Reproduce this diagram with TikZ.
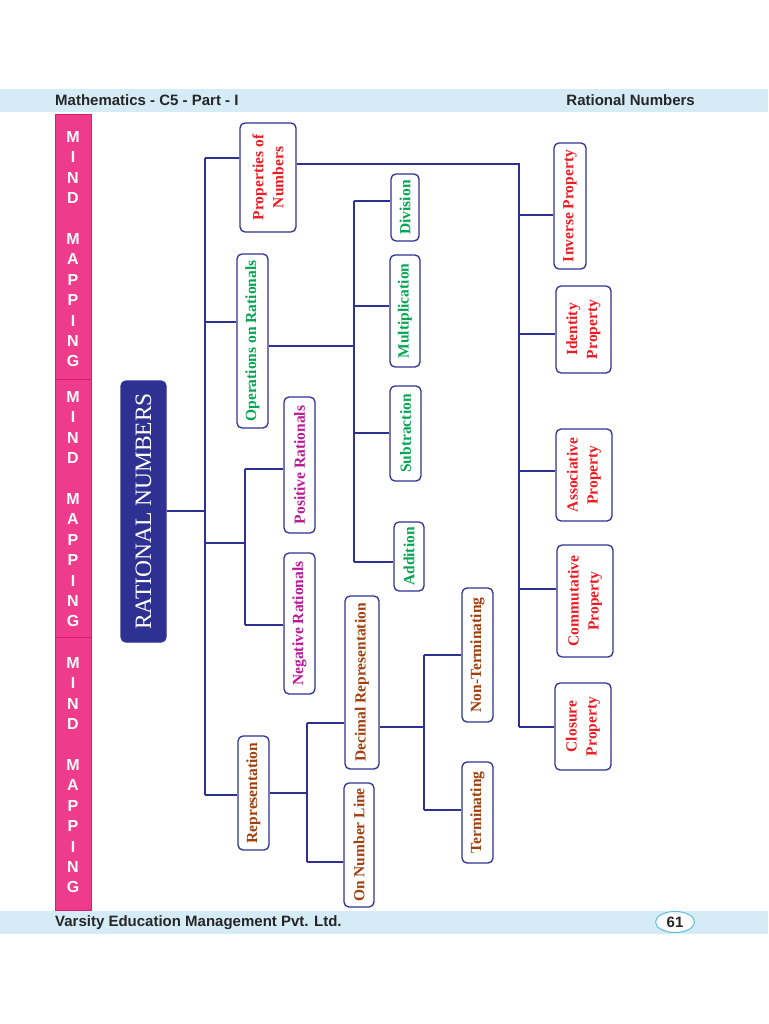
\documentclass[tikz,border=0pt]{standalone}
\usepackage{fontspec}
\setmainfont{Liberation Serif}
\newfontfamily\headfont{Liberation Sans}
\usetikzlibrary{shapes.geometric}
\definecolor{linkblue}{HTML}{2E3192}
\definecolor{pinkbar}{HTML}{EE3B8B}
\definecolor{pinkedge}{HTML}{D81C6E}
\definecolor{bandblue}{HTML}{D5ECF6}
\definecolor{numring}{HTML}{5DBDE8}
\definecolor{propred}{HTML}{ED1C24}
\definecolor{opgreen}{HTML}{00A651}
\definecolor{ratmag}{HTML}{BA1A95}
\definecolor{repbrown}{HTML}{A0400E}
\newcommand{\topic}[6]{%
 \node[topic, text=#5, minimum width=#3pt, minimum height=#4pt] (#1) at (#2) {#6};%
}

\begin{document}
\begin{tikzpicture}[x=1pt, y=-1pt,
  link/.style={draw=linkblue, line width=1.8pt},
  topic/.style={draw=linkblue, line width=1.3pt, fill=white, rounded corners=5pt,
    rotate=90, inner sep=0pt, align=center,
    font=\bfseries\fontsize{15.5}{20}\selectfont},
  headtext/.style={font=\headfont\bfseries\fontsize{15}{17}\selectfont, text=black!85, inner sep=0pt},
  mindletter/.style={font=\headfont\bfseries\fontsize{16}{18}\selectfont, text=white, inner sep=0pt}]
  \useasboundingbox (0,0) rectangle (768,1024);
  % header and footer bands
  \fill[bandblue] (0,89) rectangle (768,112);
  \node[headtext, anchor=west] (subject) at (55,100.5) {Mathematics - C5 - Part - I};
  \node[headtext, anchor=east] (chapter) at (695,100.5) {Rational Numbers};
  \fill[bandblue] (0,911) rectangle (768,934);
  \node[headtext, anchor=west] (publisher) at (55,922.5) {Varsity Education Management Pvt. Ltd.};
  \node[headtext, ellipse, draw=numring, fill=white, line width=1pt, minimum width=39pt, minimum height=21pt] (page) at (675,922) {61};
  % pink side bar
  \foreach \top/\bot/\first in {114/379/137, 379/637/397, 637/910/663} {
    \draw[pinkedge, fill=pinkbar] (55,\top) rectangle (91,\bot);
    \foreach \ch/\k in {M/0,I/1,N/2,D/3,M/5,A/6,P/7,P/8,I/9,N/10,G/11}
      \node[mindletter] (mind-\first-\k) at (73,\first+20.4*\k) {\ch};
  }
  % root
  \node[topic, fill=linkblue, text=white, minimum width=261pt, minimum height=45pt,
    font=\fontsize{23.5}{25}\selectfont] (rn) at (143.5,511.5) {RATIONAL NUMBERS};
  % first level
  \topic{prop}{268,177.5}{109}{56}{propred}{Properties of\\Numbers}
  \topic{ops}{252.5,341}{174}{31}{opgreen}{Operations on Rationals}
  \topic{pos}{299.5,465}{136}{31}{ratmag}{Positive Rationals}
  \topic{neg}{299.5,623.5}{141}{31}{ratmag}{Negative Rationals}
  \topic{rep}{253.5,793}{114}{31}{repbrown}{Representation}
  % operations
  \topic{div}{405,207.5}{67}{28}{opgreen}{Division}
  \topic{mul}{405,311}{112}{30}{opgreen}{Multiplication}
  \topic{sub}{405.5,433.5}{95}{31}{opgreen}{Subtraction}
  \topic{add}{409,556.5}{69}{30}{opgreen}{Addition}
  % representation
  \topic{dec}{362,682.5}{173}{34}{repbrown}{Decimal Representation}
  \topic{onl}{359,845}{124}{30}{repbrown}{On Number Line}
  \topic{nont}{477.5,655}{134}{31}{repbrown}{Non-Terminating}
  \topic{term}{477.5,812.5}{101}{31}{repbrown}{Terminating}
  % properties
  \topic{inv}{570,206}{126}{32}{propred}{Inverse Property}
  \topic{idn}{583.5,329.5}{87}{55}{propred}{Identity\\Property}
  \topic{asc}{584,475}{92}{56}{propred}{Associative\\Property}
  \topic{com}{585,601}{112}{56}{propred}{Commutative\\Property}
  \topic{clo}{583,726.5}{87}{56}{propred}{Closure\\Property}
  % trunk
  \coordinate (t0) at (205,511);
  \coordinate (t1) at (205,158);
  \coordinate (t2) at (205,322);
  \coordinate (t3) at (205,543);
  \coordinate (t4) at (205,795);
  \draw[link] (t1) -- (t4);
  \draw[link] (rn.south |- t0) -- (t0);
  \draw[link] (t1) -- (t1 -| prop.north);
  \draw[link] (t2) -- (t2 -| ops.north);
  \draw[link] (t4) -- (t4 -| rep.north);
  % signs
  \coordinate (p1) at (245,469);
  \coordinate (p2) at (245,625);
  \draw[link] (t3) -- (t3 -| p1);
  \draw[link] (p1) -- (p2);
  \draw[link] (p1) -- (p1 -| pos.north);
  \draw[link] (p2) -- (p2 -| neg.north);
  % operations
  \coordinate (o0) at (354,346);
  \coordinate (o1) at (354,201);
  \coordinate (o2) at (354,306);
  \coordinate (o3) at (354,433);
  \coordinate (o4) at (354,562);
  \draw[link] (ops.south |- o0) -- (o0);
  \draw[link] (o1) -- (o4);
  \foreach \j/\n in {o1/div, o2/mul, o3/sub, o4/add}
    \draw[link] (\j) -- (\j -| \n.north);
  % properties
  \coordinate (q0) at (519,164);
  \coordinate (q1) at (519,215);
  \coordinate (q2) at (519,334);
  \coordinate (q3) at (519,471);
  \coordinate (q4) at (519,589);
  \coordinate (q5) at (519,727);
  \draw[link] (prop.south |- q0) -- (q0) -- (q5);
  \foreach \j/\n in {q1/inv, q2/idn, q3/asc, q4/com, q5/clo}
    \draw[link] (\j) -- (\j -| \n.north);
  % representation
  \coordinate (r0) at (307,793);
  \coordinate (r1) at (307,723);
  \coordinate (r2) at (307,862);
  \draw[link] (rep.south |- r0) -- (r0);
  \draw[link] (r1) -- (r2);
  \draw[link] (r1) -- (r1 -| dec.north);
  \draw[link] (r2) -- (r2 -| onl.north);
  \coordinate (d0) at (424,727);
  \coordinate (d1) at (424,655);
  \coordinate (d2) at (424,810);
  \draw[link] (dec.south |- d0) -- (d0);
  \draw[link] (d1) -- (d2);
  \draw[link] (d1) -- (d1 -| nont.north);
  \draw[link] (d2) -- (d2 -| term.north);
\end{tikzpicture}
\end{document}
